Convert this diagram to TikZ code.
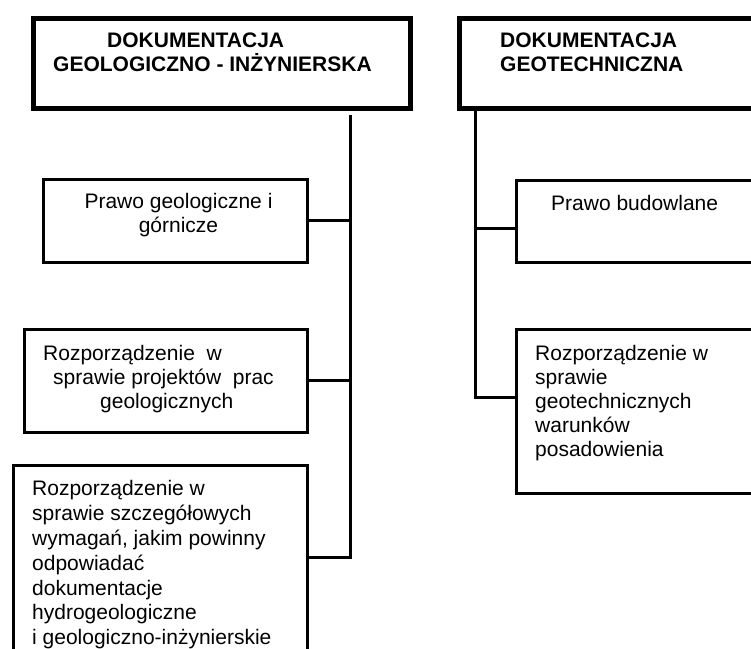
\documentclass[tikz,border=0pt]{standalone}
\usepackage{fontspec}
\setmainfont{Liberation Sans}

\tikzset{
  hdrbox/.style={draw, line width=5pt, rectangle, inner sep=0pt, anchor=north west},
  lawbox/.style={draw, line width=3pt, rectangle, inner sep=0pt, anchor=north west},
  hdrtext/.style={inner sep=0pt, align=left, anchor=north west, font=\bfseries\fontsize{21}{24}\selectfont},
  lawtext/.style={inner sep=0pt, align=left, anchor=north west, font=\fontsize{21}{24}\selectfont},
  link/.style={line width=3pt}
}

\begin{document}
\begin{tikzpicture}[x=1pt, y=-1pt]
        \path[use as bounding box, clip] (0,0) rectangle (751,648);

        % headers
        \node[hdrbox, minimum width=377pt, minimum height=90pt] (hdrGeo) at (30.5,15.5) {};
        \node[hdrbox, minimum width=400pt, minimum height=90pt] (hdrTech) at (456.5,15.5) {};
        \node[hdrtext] (hdrGeoTxt) at ([shift={(22.5,17.5)}]hdrGeo.north west)
            {\hspace*{54pt}DOKUMENTACJA\\GEOLOGICZNO - INŻYNIERSKA};
        \node[hdrtext] (hdrTechTxt) at ([shift={(43.5,17.5)}]hdrTech.north west)
            {DOKUMENTACJA\\GEOTECHNICZNA};

        % left column
        \node[lawbox, minimum width=264pt, minimum height=83pt] (boxA) at (41.5,177.5) {};
        \node[lawbox, minimum width=283pt, minimum height=103pt] (boxB) at (22.5,327.5) {};
        \node[lawbox, minimum width=294pt, minimum height=250pt] (boxC) at (11.5,463.5) {};
        \node[lawtext, align=center, anchor=north] (boxATxt) at ([shift={(3.5,15.5)}]boxA.north)
            {Prawo geologiczne i\\górnicze};
        \node[lawtext] (boxBTxt) at ([shift={(20.5,17.5)}]boxB.north west)
            {Rozporządzenie\ \ w\\\hspace*{10pt}sprawie projektów\ \ prac\\\hspace*{57pt}geologicznych};
        \node[lawtext, font=\fontsize{21}{24.8}\selectfont] (boxCTxt) at ([shift={(20.5,17)}]boxC.north west)
            {Rozporządzenie w\\sprawie szczegółowych\\wymagań, jakim powinny\\odpowiadać\\dokumentacje\\hydrogeologiczne\\i geologiczno-inżynierskie};

        % right column
        \node[lawbox, minimum width=300pt, minimum height=82pt] (boxD) at (514.5,178.5) {};
        \node[lawbox, minimum width=300pt, minimum height=164pt] (boxE) at (514.5,327.5) {};
        \node[lawtext] (boxDTxt) at ([shift={(36.5,16.5)}]boxD.north west) {Prawo budowlane};
        \node[lawtext] (boxETxt) at ([shift={(20.5,17.5)}]boxE.north west)
            {Rozporządzenie w\\sprawie\\geotechnicznych\\warunków\\posadowienia};

        % left trunk
        \coordinate (topL) at (350,115);
        \coordinate (endL) at (350,557);
        \draw[link] (topL) -- (endL) -- (endL -| boxC.east);
        \draw[link] (boxA.east) -- (boxA.east -| endL);
        \draw[link] (boxB.east) -- (boxB.east -| endL);

        % right trunk
        \coordinate (jD) at (475,228);
        \coordinate (endR) at (475,397);
        \draw[link] (endR |- hdrTech.south) -- (endR) -- (endR -| boxE.west);
        \draw[link] (jD) -- (jD -| boxD.west);
\end{tikzpicture}
\end{document}
